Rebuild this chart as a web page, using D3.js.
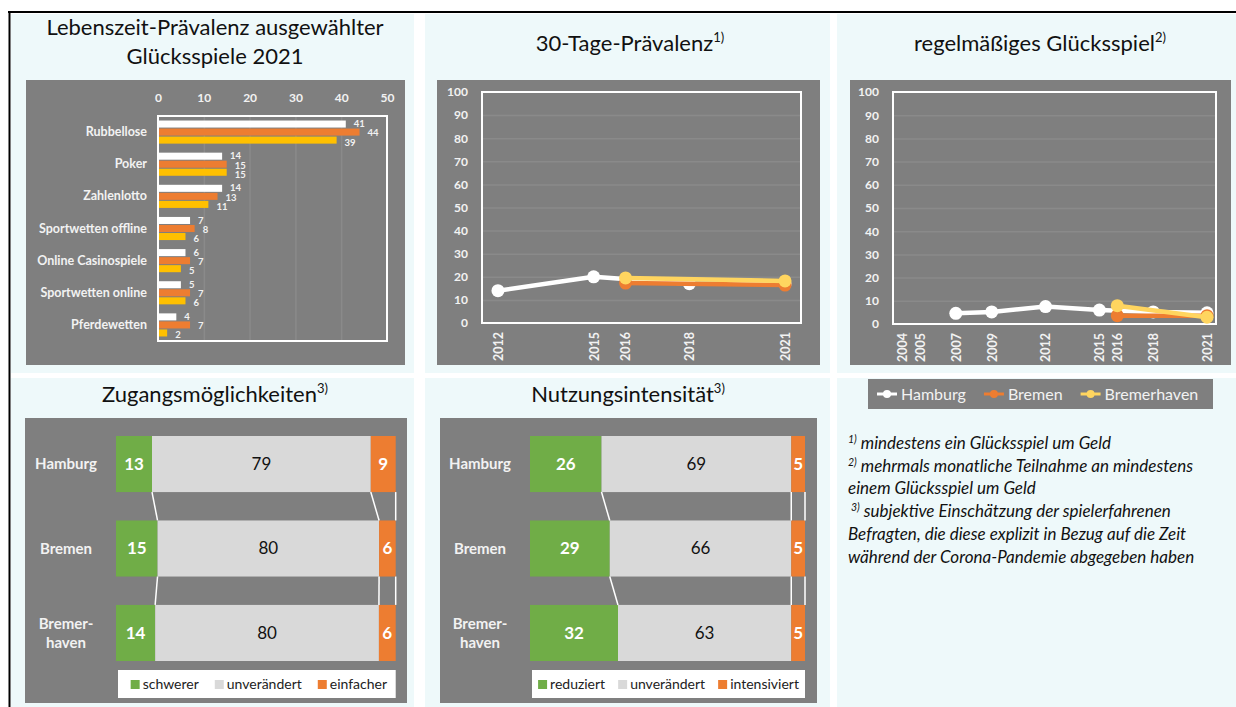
<!DOCTYPE html>
<html><head><meta charset="utf-8">
<script src="https://cdn.jsdelivr.net/npm/d3@7"></script>
<style>
html,body{margin:0;padding:0;background:#fff;}
svg{display:block;font-family:Lato,"Open Sans",sans-serif;}
</style></head><body>
<svg id="c" width="1236" height="707"></svg>
<script>
// ---------------- data ----------------
const lifetimeCategories = ["Rubbellose","Poker","Zahlenlotto","Sportwetten offline","Online Casinospiele","Sportwetten online","Pferdewetten"];
const lifetimeHamburg = [41,14,14,7,6,5,4];
const lifetimeBremen = [44,15,13,8,7,7,7];
const lifetimeBremerhaven = [39,15,11,6,5,6,2];
const lifetimeTicks = [0,10,20,30,40,50];

const regionNames = ["Hamburg","Bremen","Bremerhaven"];

const prev30TickYears = [2012,2015,2016,2018,2021];
const prev30HamburgYears = [2012,2015,2018,2021];
const prev30Hamburg = [14,20,17,17];
const prev30BremenYears = [2016,2021];
const prev30Bremen = [17.3,16.4];
const prev30BremerhavenYears = [2016,2021];
const prev30Bremerhaven = [19.5,18.2];

const regularTickYears = [2004,2005,2007,2009,2012,2015,2016,2018,2021];
const regularHamburgYears = [2007,2009,2012,2015,2018,2021];
const regularHamburg = [4.6,5.2,7.5,6.0,5.2,4.8];
const regularBremenYears = [2016,2021];
const regularBremen = [3.6,3.6];
const regularBremerhavenYears = [2016,2021];
const regularBremerhaven = [7.9,2.9];

const percentTicks = [0,10,20,30,40,50,60,70,80,90,100];

const stackRegions = ["Hamburg","Bremen","Bremerhaven"];
const stackRegionLabels = [["Hamburg"],["Bremen"],["Bremer-","haven"]];
const accessSeries = ["schwerer","unverändert","einfacher"];
const accessHarder = [13,15,14];
const accessUnchanged = [79,80,80];
const accessEasier = [9,6,6];
const intensitySeries = ["reduziert","unverändert","intensiviert"];
const intensityReduced = [26,29,32];
const intensityUnchanged = [69,66,63];
const intensityIntensified = [5,5,5];

const footnotes = [
  {sup:"1)", text:" mindestens ein Glücksspiel um Geld", dx:0},
  {sup:"2)", text:" mehrmals monatliche Teilnahme an mindestens", dx:0},
  {sup:"", text:"einem Glücksspiel um Geld", dx:0},
  {sup:"3)", text:" subjektive Einschätzung der spielerfahrenen", dx:3},
  {sup:"", text:"Befragten, die diese explizit in Bezug auf die Zeit", dx:0},
  {sup:"", text:"während der Corona-Pandemie abgegeben haben", dx:0}
];

// ---------------- styles ----------------
const PANEL = "#EEF9FA", GRAY = "#7F7F7F", GRID = "#8A8A8A", TXT = "#F2F2F2";
const WHITE = "#FFFFFF", ORANGE = "#ED7D31", GOLD = "#FFC000", GOLDLINE = "#FFD55F";
const GREEN = "#70AD47", LGRAY = "#D9D9D9";

const svg = d3.select("#c");

// panels
const panels = [
  [11,14,403,359],[425,14,405,359],[837,14,399,359],
  [11,378,403,329],[425,378,405,329],[837,378,399,329]
];
svg.selectAll("rect.panel").data(panels).join("rect").attr("class","panel")
  .attr("x",d=>d[0]).attr("y",d=>d[1]).attr("width",d=>d[2]).attr("height",d=>d[3]).attr("fill",PANEL);
// black frame
svg.append("line").attr("x1",8).attr("x2",1236).attr("y1",12).attr("y2",12).attr("stroke","#000").attr("stroke-width",2);
svg.append("line").attr("x1",9.5).attr("x2",9.5).attr("y1",11).attr("y2",707).attr("stroke","#000").attr("stroke-width",2);

// gray plot backgrounds
const grays = [[26,80,379,285],[437,80,383,285],[850,80,381,285],[25,418,382,285],[440,418,377,285]];
svg.selectAll("rect.gray").data(grays).join("rect").attr("class","gray")
  .attr("x",d=>d[0]).attr("y",d=>d[1]).attr("width",d=>d[2]).attr("height",d=>d[3]).attr("fill",GRAY);

function title(x, y, txt, sup){
  const t = svg.append("text").attr("x",x).attr("y",y).attr("text-anchor","middle")
    .attr("font-size",22).attr("fill","#111");
  t.append("tspan").text(txt);
  if (sup) t.append("tspan").attr("font-size",13).attr("dy",-9).text(sup);
}
title(215,35,"Lebenszeit-Prävalenz ausgewählter");
title(215,64,"Glücksspiele 2021");
title(630,51,"30-Tage-Prävalenz","1)");
title(1040,51,"regelmäßiges Glücksspiel","2)");
title(215,402,"Zugangsmöglichkeiten","3)");
title(628,402,"Nutzungsintensität","3)");

// ---------------- chart 1: horizontal grouped bars ----------------
(function(){
  const x0=158,x1=387,y0=116,y1=341;
  const x = d3.scaleLinear().domain([0,50]).range([x0,x1]);
  const y = d3.scaleBand().domain(lifetimeCategories).range([y0,y1]).paddingInner(0.25).paddingOuter(0.125);
  const sub = d3.scaleBand().domain(regionNames).range([0,y.bandwidth()]);
  const g = svg.append("g");
  // grid
  g.append("g").attr("transform",`translate(0,${y1})`)
    .call(d3.axisTop(x).tickValues([10,20,30,40]).tickSize(y1-y0).tickFormat(""))
    .call(s=>s.select(".domain").remove())
    .call(s=>s.selectAll("line").attr("stroke",GRID).attr("stroke-width",1.5));
  // axis labels
  g.append("g").attr("transform",`translate(0,${y0})`)
    .call(d3.axisTop(x).tickValues(lifetimeTicks).tickSize(0).tickPadding(14))
    .call(s=>s.select(".domain").remove())
    .call(s=>s.selectAll("text").attr("fill",TXT).attr("font-size",12).attr("font-weight","bold").attr("font-family","Lato"));
  // frame
  g.append("rect").attr("x",x0).attr("y",y0).attr("width",x1-x0).attr("height",y1-y0)
    .attr("fill","none").attr("stroke",WHITE).attr("stroke-width",2);
  const rows = lifetimeCategories.map((c,i)=>({cat:c, vals:[lifetimeHamburg[i],lifetimeBremen[i],lifetimeBremerhaven[i]]}));
  const cols = [WHITE, ORANGE, GOLD];
  const grp = g.selectAll("g.cat").data(rows).join("g").attr("transform",d=>`translate(0,${y(d.cat)})`);
  grp.selectAll("rect").data(d=>d.vals.map((v,k)=>({v,k}))).join("rect")
    .attr("x",x(0)+1).attr("y",d=>sub(regionNames[d.k])+0.5).attr("height",sub.bandwidth()-1)
    .attr("width",d=>x(d.v)-x(0)-1).attr("fill",d=>cols[d.k]);
  grp.selectAll("text.val").data(d=>d.vals.map((v,k)=>({v,k}))).join("text").attr("class","val")
    .attr("x",d=>x(d.v)+8).attr("y",d=>sub(regionNames[d.k])+sub.bandwidth()/2+1+(d.k-1)*1.2)
    .attr("dy","0.35em").attr("font-size",9.5).attr("font-weight","bold").attr("fill",TXT).text(d=>d.v);
  g.append("g").attr("transform",`translate(${x0},0)`)
    .call(d3.axisLeft(y).tickSize(0).tickPadding(11))
    .call(s=>s.select(".domain").remove())
    .call(s=>s.selectAll("text").attr("fill",TXT).attr("font-size",12.5).attr("font-weight","bold").attr("font-family","Lato"));
})();

// ---------------- line charts ----------------
function lineChart(o){
  const g = svg.append("g");
  const x = d3.scaleLinear().domain(o.xd).range([o.x0,o.x1]);
  const y = d3.scaleLinear().domain([0,100]).range([o.y1,o.y0]);
  g.append("g").attr("transform",`translate(${o.x0},0)`)
    .call(d3.axisLeft(y).tickValues(percentTicks.slice(1,-1)).tickSize(-(o.x1-o.x0)).tickFormat(""))
    .call(s=>s.select(".domain").remove())
    .call(s=>s.selectAll("line").attr("stroke",GRID).attr("stroke-width",1.5));
  g.append("g").attr("transform",`translate(${o.x0},0)`)
    .call(d3.axisLeft(y).tickValues(percentTicks).tickSize(0).tickPadding(14))
    .call(s=>s.select(".domain").remove())
    .call(s=>s.selectAll("text").attr("fill",TXT).attr("font-size",12).attr("font-weight","bold").attr("font-family","Lato"));
  g.append("g").attr("transform",`translate(0,${o.y1})`)
    .call(d3.axisBottom(x).tickValues(o.ticks).tickFormat(d3.format("d")).tickSize(0))
    .call(s=>s.select(".domain").remove())
    .call(s=>s.selectAll("text").attr("fill",TXT).attr("font-size",12.5).attr("font-weight","bold").attr("font-family","Lato")
      .attr("transform","rotate(-90)").attr("x",-9).attr("y",0).attr("dy","0.35em").style("text-anchor","end"));
  g.append("rect").attr("x",o.x0).attr("y",o.y0).attr("width",o.x1-o.x0).attr("height",o.y1-o.y0)
    .attr("fill","none").attr("stroke",WHITE).attr("stroke-width",2);
  const line = d3.line().x(d=>x(d[0])).y(d=>y(d[1]));
  o.series.forEach(s=>{
    const pts = s.years.map((yr,i)=>[yr,s.values[i]]);
    g.append("path").datum(pts).attr("d",line).attr("fill","none").attr("stroke",s.color)
      .attr("stroke-width",4.5).attr("stroke-linejoin","round").attr("stroke-linecap","round");
    g.selectAll(null).data(pts).join("circle").attr("cx",d=>x(d[0])).attr("cy",d=>y(d[1]))
      .attr("r",6.5).attr("fill",s.color);
  });
}
lineChart({x0:482,x1:801,y0:92,y1:323,xd:[2011.5,2021.5],ticks:prev30TickYears,series:[
  {years:prev30HamburgYears,values:prev30Hamburg,color:WHITE},
  {years:prev30BremenYears,values:prev30Bremen,color:ORANGE},
  {years:prev30BremerhavenYears,values:prev30Bremerhaven,color:GOLDLINE}]});
lineChart({x0:893,x1:1216,y0:92,y1:324,xd:[2003.5,2021.5],ticks:regularTickYears,series:[
  {years:regularHamburgYears,values:regularHamburg,color:WHITE},
  {years:regularBremenYears,values:regularBremen,color:ORANGE},
  {years:regularBremerhavenYears,values:regularBremerhaven,color:GOLDLINE}]});

// legend for line charts
(function(){
  const g = svg.append("g");
  g.append("rect").attr("x",868).attr("y",379).attr("width",345).attr("height",30).attr("fill",GRAY);
  const cols=[WHITE,ORANGE,GOLDLINE];
  let cx = 877;
  regionNames.forEach((n,i)=>{
    g.append("line").attr("x1",cx).attr("x2",cx+20).attr("y1",394).attr("y2",394).attr("stroke",cols[i]).attr("stroke-width",3);
    g.append("circle").attr("cx",cx+10).attr("cy",394).attr("r",4).attr("fill",cols[i]);
    const t = g.append("text").attr("x",cx+24).attr("y",400).attr("font-size",16).attr("fill",TXT).text(n);
    cx += 24 + t.node().getComputedTextLength() + 18;
  });
})();

// footnotes
(function(){
  const g = svg.append("g");
  footnotes.forEach((f,i)=>{
    const t = g.append("text").attr("x",848+f.dx).attr("y",449+i*22.7).attr("font-size",17)
      .attr("font-style","italic").attr("fill","#111");
    if (f.sup) t.append("tspan").attr("font-size",10.5).attr("dy",-6).text(f.sup);
    t.append("tspan").attr("dy",f.sup?6:0).text(f.text);
  });
})();

// ---------------- stacked bars ----------------
function stackChart(o){
  const g = svg.append("g");
  const keys = o.series;
  const rows = stackRegions.map((r,i)=>{const d={region:r}; keys.forEach((k,j)=>d[k]=o.values[j][i]); return d;});
  const stacked = d3.stack().keys(keys).offset(d3.stackOffsetExpand)(rows);
  const x = d3.scaleLinear().domain([0,1]).range([o.x0,o.x1]);
  const y = d3.scaleBand().domain(stackRegions).range([436,661]).paddingInner(0.336).paddingOuter(0);
  const cols=[GREEN,LGRAY,ORANGE];
  stacked.forEach((layer,j)=>{
    g.selectAll(null).data(layer).join("rect")
      .attr("x",d=>x(d[0])).attr("width",d=>x(d[1])-x(d[0]))
      .attr("y",d=>y(d.data.region)).attr("height",y.bandwidth()).attr("fill",cols[j]);
    g.selectAll(null).data(layer).join("text")
      .attr("x",d=>(x(d[0])+x(d[1]))/2).attr("y",d=>y(d.data.region)+y.bandwidth()/2)
      .attr("dy","0.35em").attr("text-anchor","middle").attr("font-size",17)
      .attr("font-weight",j===1?"normal":"bold").attr("fill",j===1?"#111":WHITE)
      .text(d=>d.data[keys[j]]);
  });
  // series lines
  stacked.forEach(layer=>{
    for(let i=0;i<layer.length-1;i++){
      g.append("line").attr("x1",x(layer[i][1])).attr("y1",y(stackRegions[i])+y.bandwidth())
        .attr("x2",x(layer[i+1][1])).attr("y2",y(stackRegions[i+1]))
        .attr("stroke",WHITE).attr("stroke-width",1.5);
    }
  });
  // region labels
  stackRegions.forEach((r,i)=>{
    const lines = stackRegionLabels[i];
    const cy = y(r)+y.bandwidth()/2;
    lines.forEach((l,k)=>{
      g.append("text").attr("x",o.labelX).attr("y",cy+(k-(lines.length-1)/2)*19).attr("dy","0.35em")
        .attr("text-anchor","middle").attr("font-size",15).attr("font-weight","bold").attr("fill",TXT).text(l);
    });
  });
  // legend
  g.append("rect").attr("x",o.x0+2).attr("y",670).attr("width",o.x1-o.x0-2).attr("height",28).attr("fill",WHITE);
  const lg = g.append("g");
  let cx=0;
  keys.forEach((k,j)=>{
    lg.append("rect").attr("x",cx).attr("y",680).attr("width",9).attr("height",9).attr("fill",cols[j]);
    const t=lg.append("text").attr("x",cx+12).attr("y",689).attr("font-size",14).attr("fill","#222").text(k);
    cx += 12 + t.node().getComputedTextLength() + o.gap;
  });
  cx -= o.gap;
  lg.attr("transform",`translate(${(o.x0+o.x1)/2 - cx/2 + o.shift},0)`);
}
stackChart({x0:116,x1:395.7,labelX:66,gap:16,shift:3,series:accessSeries,values:[accessHarder,accessUnchanged,accessEasier]});
stackChart({x0:530,x1:805,labelX:480,gap:13,shift:1,series:intensitySeries,values:[intensityReduced,intensityUnchanged,intensityIntensified]});
</script>
</body></html>
